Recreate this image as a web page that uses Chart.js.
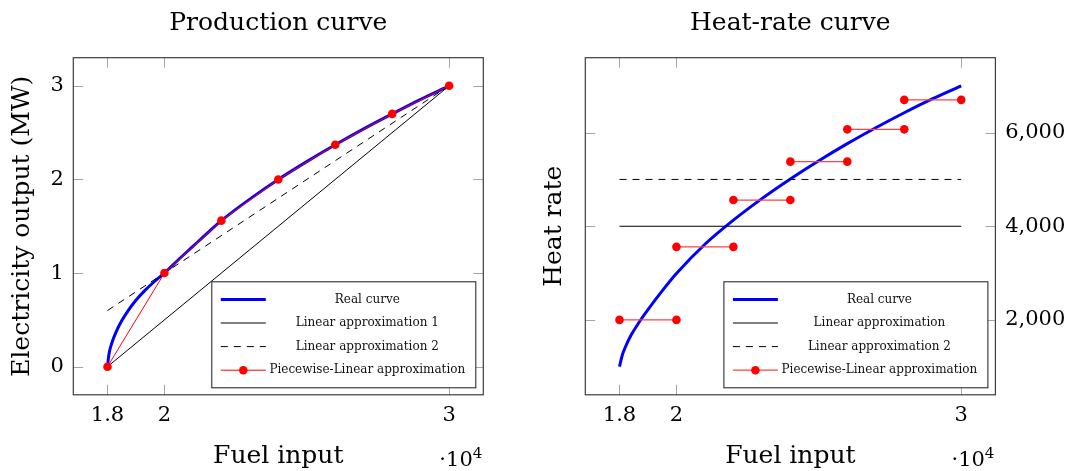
<!DOCTYPE html>
<html>
<head>
<meta charset="utf-8">
<script src="https://cdn.jsdelivr.net/npm/chart.js@4/dist/chart.umd.min.js"></script>
<style>
  html, body { margin: 0; padding: 0; background: #fff; }
  #wrap { position: relative; width: 1074px; height: 471px; overflow: hidden; }
  canvas { position: absolute; top: 0; }
  #prod { left: 0; }
  #heat { left: 537px; }
</style>
</head>
<body>
<div id="wrap">
  <canvas id="prod" width="537" height="471"></canvas>
  <canvas id="heat" width="537" height="471"></canvas>
</div>
<script>
// ---- data -------------------------------------------------------------
// breakpoints of the piecewise-linear model (fuel input)
const stepFuel = [18000, 20000, 22000, 24000, 26000, 28000, 30000];
// electricity output at each breakpoint (MW)
const stepOutput = [0, 1, 1.56, 2.0, 2.37, 2.70, 3];

// real production curve
const prodCurveFuel = [18000, 18050, 18150, 18300, 18500, 18750, 19000, 19300, 19650, 20000,
                       20500, 21000, 21500, 22000, 23000, 24000, 25000, 26000, 27000, 28000, 29000, 30000];
const prodCurveOutput = [0, 0.13, 0.25, 0.37, 0.49, 0.61, 0.71, 0.81, 0.91, 1.0,
                         1.145, 1.285, 1.425, 1.56, 1.79, 2.0, 2.19, 2.37, 2.54, 2.70, 2.855, 3.0];

// straight-line approximations of the production curve
const lineFuel = [18000, 30000];
const prodLinear1 = [0, 3];
const prodLinear2 = [0.6, 3];

// real heat-rate curve
const heatCurveFuel = [18000, 18100, 18200, 18400, 18700, 19000, 19500, 20000, 21000, 22000,
                       23000, 24000, 25000, 26000, 27000, 28000, 29000, 30000];
const heatCurveRate = [1000, 1250, 1410, 1665, 1960, 2220, 2620, 2990, 3615, 4130,
                       4590, 5010, 5400, 5765, 6105, 6425, 6725, 7000];

// heat rate of each piecewise segment
const segmentHeatRate = [2000, 3560, 4560, 5380, 6070, 6700];
// constant heat-rate approximations
const heatLinear1 = [4000, 4000];
const heatLinear2 = [5000, 5000];

// tick values
const fuelTicks = [18000, 20000, 30000];
const outputTicks = [0, 1, 2, 3];
const heatTicks = [2000, 4000, 6000];

const prodLegend = ['Real curve', 'Linear approximation 1', 'Linear approximation 2', 'Piecewise-Linear approximation'];
const heatLegend = ['Real curve', 'Linear approximation', 'Linear approximation 2', 'Piecewise-Linear approximation'];

// ---- helpers ----------------------------------------------------------
const FAM = "'DejaVu Serif', serif";
const pts = (xs, ys) => xs.map((x, i) => ({ x, y: ys[i] }));
const padded = (arr) => {
  const lo = Math.min(...arr), hi = Math.max(...arr), d = 0.1 * (hi - lo);
  return [lo - d, hi + d];
};
const [xMin, xMax] = padded(stepFuel);
const [pMin, pMax] = padded(stepOutput);
const [hMin, hMax] = padded(heatCurveRate);

// horizontal segments, separated by gaps
const stepPoints = [];
segmentHeatRate.forEach((r, i) => {
  if (i > 0) stepPoints.push({ x: stepFuel[i], y: null });
  stepPoints.push({ x: stepFuel[i], y: r }, { x: stepFuel[i + 1], y: r });
});

const fixedTicks = (vals) => (scale) => { scale.ticks = vals.map(v => ({ value: v })); };

// inward tick marks and axis frame
const framePlugin = {
  id: 'frame',
  beforeDatasetsDraw(chart) {
    const { ctx, chartArea: a } = chart;
    const xs = chart.scales.x, ys = chart.scales.y;
    const L = 10;
    ctx.save();
    ctx.strokeStyle = '#a6a6a6';
    ctx.lineWidth = 1;
    ctx.beginPath();
    xs.ticks.forEach(t => {
      const p = Math.round(xs.getPixelForValue(t.value)) + 0.5;
      ctx.moveTo(p, a.bottom); ctx.lineTo(p, a.bottom - L);
      ctx.moveTo(p, a.top); ctx.lineTo(p, a.top + L);
    });
    ys.ticks.forEach(t => {
      const p = Math.round(ys.getPixelForValue(t.value)) + 0.5;
      ctx.moveTo(a.left, p); ctx.lineTo(a.left + L, p);
      ctx.moveTo(a.right, p); ctx.lineTo(a.right - L, p);
    });
    ctx.stroke();
    ctx.restore();
  },
  afterDatasetsDraw(chart) {
    const { ctx, chartArea: a } = chart;
    ctx.save();
    ctx.strokeStyle = '#3c3c3c';
    ctx.lineWidth = 1.2;
    ctx.strokeRect(a.left, a.top, a.right - a.left, a.bottom - a.top);
    ctx.restore();
  }
};

// boxed legend in the lower-right corner of the plot
const boxLegend = {
  id: 'boxLegend',
  afterDraw(chart, args, opts) {
    const { ctx, chartArea: a } = chart;
    const w = 264, h = 106;
    const right = a.right - 7.5, bottom = a.bottom - 7;
    const left = right - w, top = bottom - h;
    ctx.save();
    ctx.fillStyle = '#fff';
    ctx.fillRect(left, top, w, h);
    ctx.strokeStyle = '#1a1a1a';
    ctx.lineWidth = 1;
    ctx.strokeRect(left, top, w, h);
    chart.data.datasets.forEach((ds, i) => {
      const y = top + 17.6 + i * 23.6;
      const x0 = left + 9, x1 = left + 54;
      ctx.save();
      ctx.strokeStyle = ds.borderColor;
      ctx.lineWidth = ds.borderWidth;
      ctx.setLineDash(ds.borderDash || []);
      ctx.beginPath();
      ctx.moveTo(x0, y); ctx.lineTo(x1, y);
      ctx.stroke();
      ctx.restore();
      if (ds.pointRadius > 0) {
        ctx.fillStyle = ds.pointBackgroundColor;
        ctx.beginPath();
        ctx.arc((x0 + x1) / 2, y, ds.pointRadius, 0, Math.PI * 2);
        ctx.fill();
      }
      ctx.fillStyle = '#111';
      ctx.font = `12px ${FAM}`;
      ctx.textAlign = 'center';
      ctx.textBaseline = 'middle';
      ctx.fillText(opts.labels[i], left + 155.5, y);
    });
    ctx.restore();
  }
};

// "·10^4" multiplier below the right end of the x axis
const multiplier = {
  id: 'multiplier',
  afterDraw(chart) {
    const { ctx, chartArea: a } = chart;
    ctx.save();
    ctx.fillStyle = '#000';
    ctx.textBaseline = 'alphabetic';
    ctx.textAlign = 'left';
    ctx.font = `15px ${FAM}`;
    const ws = ctx.measureText('4').width;
    ctx.font = `21px ${FAM}`;
    const wb = ctx.measureText('·10').width;
    const right = a.right - 1, y = chart.height - 5.5;
    ctx.fillText('·10', right - ws - wb, y);
    ctx.font = `15px ${FAM}`;
    ctx.fillText('4', right - ws, y - 7.5);
    ctx.restore();
  }
};

const titleFont = { family: FAM, size: 25, weight: 'normal', lineHeight: 1.2 };
const tickFont = { family: FAM, size: 21, weight: 'normal', lineHeight: 1.2 };

function xScale() {
  return {
    type: 'linear', position: 'bottom', min: xMin, max: xMax,
    afterBuildTicks: fixedTicks(fuelTicks),
    afterFit: s => { s.height = 76.2; },
    grid: { display: false, drawTicks: false },
    border: { display: false },
    ticks: { font: tickFont, color: '#000', padding: 8.6, maxRotation: 0,
             callback: v => String(v / 1e4) },
    title: { display: true, text: 'Fuel input', font: titleFont, color: '#000', padding: { top: 0, bottom: 0 } }
  };
}

function plotTitle(text) {
  return { display: true, fullSize: false, text, font: titleFont, color: '#000',
           padding: { top: 8.6, bottom: 19.1 } };
}

const common = {
  responsive: false,
  devicePixelRatio: 1,
  animation: false,
  events: [],
  elements: { line: { tension: 0 } }
};

// ---- production curve -------------------------------------------------
new Chart(document.getElementById('prod'), {
  type: 'line',
  data: {
    datasets: [
      { data: pts(prodCurveFuel, prodCurveOutput), borderColor: '#0000ff', borderWidth: 3,
        pointRadius: 0, cubicInterpolationMode: 'monotone', order: 3 },
      { data: pts(lineFuel, prodLinear1), borderColor: '#000', borderWidth: 1, pointRadius: 0, order: 2 },
      { data: pts(lineFuel, prodLinear2), borderColor: '#000', borderWidth: 1, borderDash: [7, 6],
        pointRadius: 0, order: 1 },
      { data: pts(stepFuel, stepOutput), borderColor: '#ff0000', borderWidth: 1,
        pointRadius: 4.3, pointBackgroundColor: '#ff0000', pointBorderWidth: 0, order: 0 }
    ]
  },
  options: Object.assign({}, common, {
    layout: { padding: { left: 0, top: 0, bottom: 0, right: 537 - 483.3 } },
    scales: {
      x: xScale(),
      y: {
        type: 'linear', position: 'left', min: pMin, max: pMax,
        afterBuildTicks: fixedTicks(outputTicks),
        afterFit: s => { s.width = 73.3; },
        grid: { display: false, drawTicks: false },
        border: { display: false },
        ticks: { font: tickFont, color: '#000', padding: 9.5, callback: v => String(v) },
        title: { display: true, text: 'Electricity output (MW)', font: titleFont, color: '#000',
                 padding: { top: 7, bottom: 0 } }
      }
    },
    plugins: {
      legend: { display: false },
      tooltip: { enabled: false },
      title: plotTitle('Production curve'),
      boxLegend: { labels: prodLegend }
    }
  }),
  plugins: [framePlugin, boxLegend, multiplier]
});

// ---- heat-rate curve --------------------------------------------------
new Chart(document.getElementById('heat'), {
  type: 'line',
  data: {
    datasets: [
      { data: pts(heatCurveFuel, heatCurveRate), yAxisID: 'y', borderColor: '#0000ff', borderWidth: 3,
        pointRadius: 0, cubicInterpolationMode: 'monotone', order: 3 },
      { data: pts(lineFuel, heatLinear1), yAxisID: 'y', borderColor: '#000', borderWidth: 1,
        pointRadius: 0, order: 2 },
      { data: pts(lineFuel, heatLinear2), yAxisID: 'y', borderColor: '#000', borderWidth: 1,
        borderDash: [7, 6], pointRadius: 0, order: 1 },
      { data: stepPoints, yAxisID: 'y', borderColor: '#ff4040', borderWidth: 1.2, spanGaps: false,
        pointRadius: 4.3, pointBackgroundColor: '#ff0000', pointBorderWidth: 0, order: 0 }
    ]
  },
  options: Object.assign({}, common, {
    layout: { padding: 0 },
    scales: {
      x: xScale(),
      y: {
        type: 'linear', position: 'right', min: hMin, max: hMax,
        afterBuildTicks: fixedTicks(heatTicks),
        afterFit: s => { s.width = 537 - 458.4; },
        grid: { display: false, drawTicks: false },
        border: { display: false },
        ticks: { font: tickFont, color: '#000', padding: 9.8, callback: v => v.toLocaleString('en-US') }
      },
      yl: {
        type: 'linear', position: 'left', min: hMin, max: hMax,
        afterFit: s => { s.width = 48.3; },
        grid: { display: false, drawTicks: false },
        border: { display: false },
        ticks: { display: false },
        title: { display: true, text: 'Heat rate', font: titleFont, color: '#000',
                 padding: { top: 2, bottom: 0 } }
      }
    },
    plugins: {
      legend: { display: false },
      tooltip: { enabled: false },
      title: plotTitle('Heat-rate curve'),
      boxLegend: { labels: heatLegend }
    }
  }),
  plugins: [framePlugin, boxLegend, multiplier]
});
</script>
</body>
</html>
